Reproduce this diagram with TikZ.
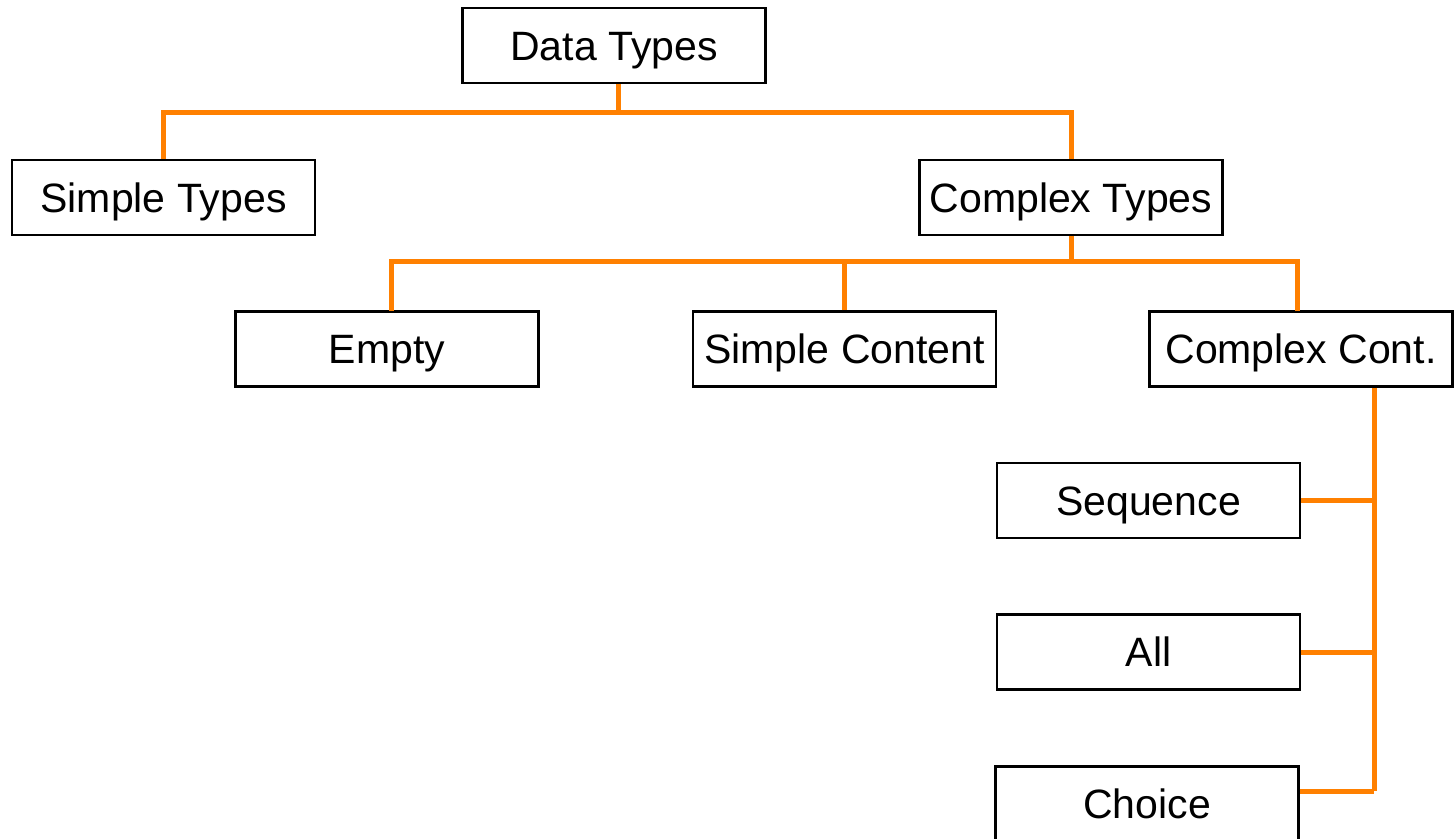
\documentclass[tikz,border=0pt]{standalone}
\usepackage{fontspec}
\setmainfont{Liberation Sans}
\definecolor{lineorange}{RGB}{255,128,0}
\begin{document}
\begin{tikzpicture}[x=0.5pt,y=-0.5pt,
  box/.style={draw=black,line width=1.4pt,rectangle,minimum width=151.5pt,minimum height=37.5pt,inner sep=0pt,text height=14.7pt,text depth=0pt,font=\fontsize{20.5}{24}\selectfont},
  conn/.style={draw=lineorange,line width=2.5pt}]
\useasboundingbox (0,0) rectangle (1455,839);
\node[box] (data) at (614,45.5) {Data Types};
\node[box] (simple) at (163.5,197.5) {Simple Types};
\node[box] (complex) at (1071,197.5) {Complex Types};
\node[box] (empty) at (387,349) {Empty};
\node[box] (scontent) at (844.5,349) {Simple Content};
\node[box] (ccont) at (1301,349) {Complex Cont.};
\node[box] (seq) at (1148.5,500.5) {Sequence};
\node[box] (all) at (1148.5,652) {All};
\node[box] (choice) at (1147,804) {Choice};
\coordinate (bar1) at (618,113);
\coordinate (bar2) at (1071,262);
\coordinate (bus) at (1374,791);
\coordinate (emptytop) at (391,311);
\coordinate (cconttop) at (1297,311);
% level 1
\draw[conn] (data.south -| bar1) -- (bar1);
\draw[conn] (simple.north) |- (bar1) -| (complex.north);
% level 2
\draw[conn] (complex.south) -- (bar2);
\draw[conn] (emptytop) |- (bar2) -| (cconttop);
\draw[conn] (scontent.north) -- (scontent.north |- bar2);
% level 3
\draw[conn] (ccont.south -| bus) -- (bus);
\draw[conn] (seq.east) -- (seq.east -| bus);
\draw[conn] (all.east) -- (all.east -| bus);
\draw[conn] (choice.east |- bus) -- (bus);
\end{tikzpicture}
\end{document}
